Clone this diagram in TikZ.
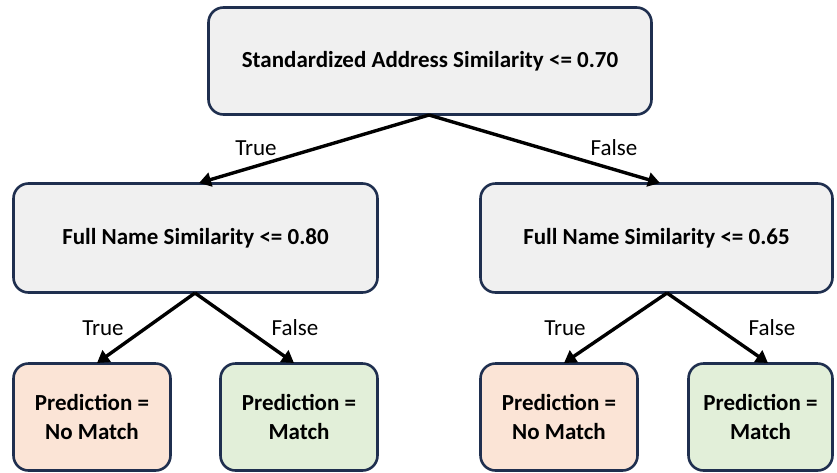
\documentclass[tikz,border=0pt]{standalone}
\usepackage{fontspec}
\setmainfont{Carlito}
\usetikzlibrary{arrows.meta}
\definecolor{edgeblue}{HTML}{1F2F4F}
\definecolor{grayfill}{HTML}{F0F0F0}
\definecolor{peach}{HTML}{FBE4D6}
\definecolor{mint}{HTML}{E2EFD9}
\begin{document}
\begin{tikzpicture}[x=1pt,y=-1pt,
  box/.style={draw=edgeblue,line width=2.6pt,rounded corners=15pt,inner sep=0pt,align=center,font=\fontsize{23}{29}\selectfont\bfseries},
  decision/.style={box,fill=grayfill},
  nomatch/.style={box,fill=peach},
  yesmatch/.style={box,fill=mint},
  conn/.style={line width=3.4pt,-{Triangle[length=12pt,width=14pt]}},
  lbl/.style={font=\fontsize{23}{28}\selectfont,inner sep=0pt}]
\useasboundingbox (0,0) rectangle (837,472);
\node[decision,minimum width=443pt,minimum height=107pt] (root) at (430,61) {Standardized Address Similarity <= 0.70};
\node[decision,minimum width=364pt,minimum height=109pt] (left) at (195.5,238) {Full Name Similarity <= 0.80};
\node[decision,minimum width=352pt,minimum height=109pt] (right) at (656.5,238) {Full Name Similarity <= 0.65};
\node[nomatch,minimum width=157pt,minimum height=107pt] (l1) at (92,417) {Prediction =\\No Match};
\node[yesmatch,minimum width=157pt,minimum height=107pt] (l2) at (299,417) {Prediction =\\Match};
\node[nomatch,minimum width=157pt,minimum height=107pt] (r1) at (559,417) {Prediction =\\No Match};
\node[yesmatch,minimum width=144pt,minimum height=107pt] (r2) at (760.5,417) {Prediction =\\Match};
\coordinate (rootS) at (429,115);
\coordinate (leftS) at (195,293);
\coordinate (rightS) at (667,293);
\coordinate (leftT) at (199,183);
\coordinate (rightT) at (660,183);
\coordinate (l1T) at (97,363);
\coordinate (l2T) at (294,363);
\coordinate (r1T) at (564,363);
\coordinate (r2T) at (768,363);
\draw[conn] (rootS) -- (leftT);
\draw[conn] (rootS) -- (rightT);
\draw[conn] (leftS) -- (l1T);
\draw[conn] (leftS) -- (l2T);
\draw[conn] (rightS) -- (r1T);
\draw[conn] (rightS) -- (r2T);
\node[lbl] (t1) at (256,148) {True};
\node[lbl] (f1) at (614,148) {False};
\node[lbl] (t2) at (103,328) {True};
\node[lbl] (f2) at (295,328) {False};
\node[lbl] (t3) at (565,328) {True};
\node[lbl] (f3) at (772,328) {False};
\end{tikzpicture}
\end{document}
